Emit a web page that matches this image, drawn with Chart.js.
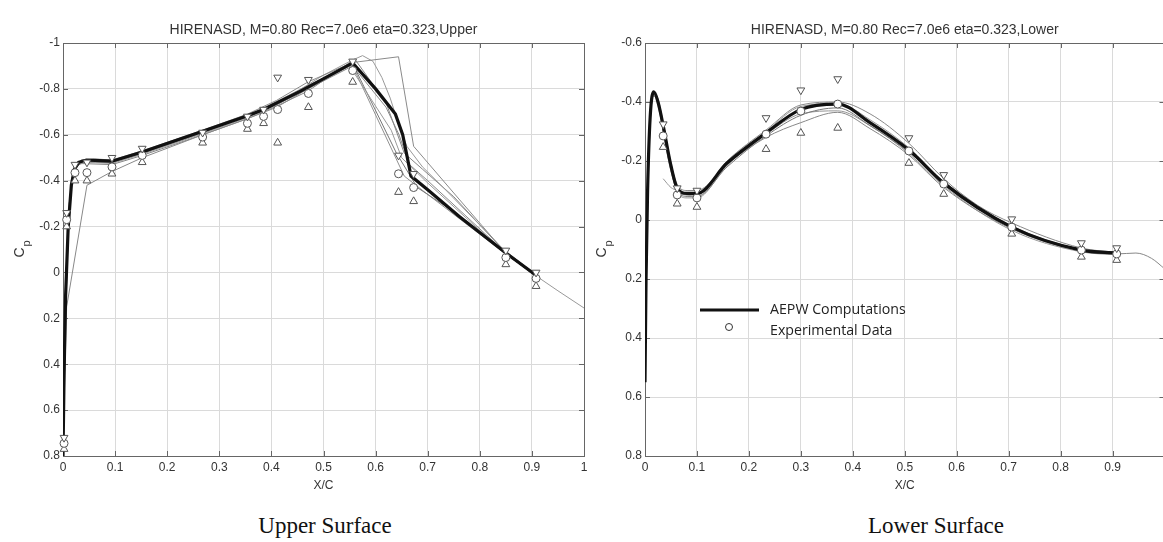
<!DOCTYPE html>
<html lang="en">
<head>
<meta charset="UTF-8">
<title>HIRENASD Cp</title>
<script src="https://cdn.jsdelivr.net/npm/chart.js"></script>
<style>
  html, body { margin: 0; padding: 0; background: #fff; overflow: hidden; }
  body { width: 1163px; height: 542px; position: relative; }
  canvas { position: absolute; top: 0; }
  #cvUpper { left: 0; }
  #cvLower { left: 590px; }
  .caption {
    position: absolute; top: 513px;
    font-family: "Liberation Serif", "Times New Roman", serif;
    font-size: 23px; color: #111;
    transform: translateX(-50%); white-space: nowrap;
  }
</style>
</head>
<body>

<canvas id="cvUpper" width="600" height="500"></canvas>
<canvas id="cvLower" width="580" height="500"></canvas>
<div class="caption" style="left:325px">Upper Surface</div>
<div class="caption" style="left:936px">Lower Surface</div>

<script>
// ---- tick labels ----
const upperXTicks = [0, 0.1, 0.2, 0.3, 0.4, 0.5, 0.6, 0.7, 0.8, 0.9, 1];
const upperYTicks = [-1, -0.8, -0.6, -0.4, -0.2, 0, 0.2, 0.4, 0.6, 0.8];
const lowerXTicks = [0, 0.1, 0.2, 0.3, 0.4, 0.5, 0.6, 0.7, 0.8, 0.9];
const lowerYTicks = [-0.6, -0.4, -0.2, 0, 0.2, 0.4, 0.6, 0.8];

// ---- upper surface, experimental data (x/c, Cp) ----
const upperExpX    = [0.002, 0.007, 0.023, 0.046, 0.094, 0.152, 0.268, 0.354, 0.385, 0.412, 0.471, 0.556, 0.644, 0.673, 0.85, 0.908];
const upperExpMin  = [0.72, -0.26, -0.47, -0.48, -0.50, -0.54, -0.61, -0.68, -0.71, -0.85, -0.84, -0.92, -0.51, -0.43, -0.096, 0.0];
const upperExpMean = [0.745, -0.23, -0.435, -0.435, -0.46, -0.51, -0.59, -0.65, -0.68, -0.71, -0.78, -0.88, -0.43, -0.37, -0.065, 0.026];
const upperExpMax  = [0.77, -0.20, -0.40, -0.40, -0.43, -0.48, -0.565, -0.625, -0.65, -0.565, -0.72, -0.83, -0.35, -0.31, -0.035, 0.06];

// ---- upper surface, computations [x/c, Cp] ----
const upperAEPW = [[0,0.8],[0.002,0.45],[0.005,0.1],[0.01,-0.2],[0.016,-0.38],[0.022,-0.45],[0.03,-0.48],[0.045,-0.49],[0.07,-0.487],[0.094,-0.485],[0.152,-0.525],[0.268,-0.615],[0.354,-0.683],[0.385,-0.71],[0.456,-0.79],[0.556,-0.913],[0.6,-0.8],[0.638,-0.69],[0.652,-0.6],[0.668,-0.42],[0.7,-0.36],[0.76,-0.245],[0.85,-0.085],[0.908,0.012]];
const upperRun1 = [[0,0.78],[0.003,0.35],[0.008,-0.05],[0.014,-0.33],[0.022,-0.46],[0.035,-0.49],[0.06,-0.495],[0.094,-0.49],[0.152,-0.53],[0.268,-0.62],[0.354,-0.69],[0.41,-0.75],[0.47,-0.83],[0.556,-0.915],[0.644,-0.94],[0.673,-0.55],[0.76,-0.32],[0.84,-0.11],[0.908,0.01]];
const upperRun2 = [[0,0.8],[0.004,0.25],[0.012,-0.3],[0.02,-0.44],[0.035,-0.49],[0.094,-0.48],[0.152,-0.52],[0.268,-0.61],[0.354,-0.68],[0.41,-0.735],[0.5,-0.86],[0.555,-0.925],[0.575,-0.945],[0.595,-0.92],[0.612,-0.85],[0.628,-0.76],[0.645,-0.64],[0.66,-0.55],[0.69,-0.46],[0.73,-0.37],[0.85,-0.09],[0.908,0.015],[0.95,0.08],[1,0.155]];
const upperRun3 = [[0,0.75],[0.007,0.15],[0.046,-0.38],[0.094,-0.44],[0.152,-0.5],[0.268,-0.6],[0.354,-0.67],[0.41,-0.72],[0.47,-0.8],[0.556,-0.9],[0.62,-0.72],[0.645,-0.6],[0.665,-0.47],[0.7,-0.4],[0.85,-0.085],[0.908,0.02]];
const upperRun4 = [[0,0.8],[0.003,0.3],[0.009,-0.15],[0.016,-0.4],[0.025,-0.47],[0.045,-0.48],[0.094,-0.475],[0.152,-0.515],[0.268,-0.605],[0.354,-0.675],[0.41,-0.73],[0.47,-0.8],[0.55,-0.9],[0.63,-0.62],[0.65,-0.5],[0.7,-0.39],[0.85,-0.08],[0.908,0.015]];
const upperRun5 = [[0,0.8],[0.002,0.4],[0.006,0.0],[0.012,-0.3],[0.02,-0.45],[0.04,-0.485],[0.094,-0.48],[0.152,-0.52],[0.268,-0.61],[0.354,-0.68],[0.41,-0.74],[0.47,-0.81],[0.556,-0.91],[0.64,-0.52],[0.68,-0.37],[0.76,-0.25],[0.85,-0.08],[0.908,0.015]];
const upperRun6 = [[0,0.8],[0.003,0.4],[0.008,-0.1],[0.015,-0.37],[0.025,-0.47],[0.05,-0.48],[0.094,-0.48],[0.152,-0.52],[0.268,-0.61],[0.354,-0.68],[0.41,-0.745],[0.47,-0.815],[0.555,-0.905],[0.655,-0.42],[0.7,-0.34],[0.85,-0.08],[0.908,0.015]];
const upperRun7 = [[0,0.8],[0.003,0.35],[0.01,-0.2],[0.018,-0.42],[0.03,-0.475],[0.094,-0.47],[0.152,-0.51],[0.268,-0.6],[0.354,-0.67],[0.41,-0.725],[0.47,-0.79],[0.56,-0.93],[0.62,-0.74],[0.655,-0.52],[0.69,-0.45],[0.75,-0.33],[0.85,-0.085],[0.908,0.01]];

// ---- lower surface, experimental data ----
const lowerExpX    = [0.035, 0.062, 0.1, 0.233, 0.30, 0.371, 0.508, 0.575, 0.706, 0.84, 0.908];
const lowerExpMin  = [-0.325, -0.108, -0.10, -0.346, -0.44, -0.478, -0.278, -0.153, -0.003, 0.078, 0.095];
const lowerExpMean = [-0.285, -0.085, -0.075, -0.291, -0.369, -0.393, -0.234, -0.122, 0.024, 0.102, 0.115];
const lowerExpMax  = [-0.247, -0.055, -0.044, -0.24, -0.295, -0.312, -0.193, -0.088, 0.047, 0.125, 0.136];

// ---- lower surface, computations ----
const lowerAEPW = [[0,0.55],[0.002,0.2],[0.005,-0.1],[0.01,-0.35],[0.017,-0.434],[0.025,-0.4],[0.035,-0.32],[0.048,-0.2],[0.062,-0.108],[0.081,-0.09],[0.1,-0.09],[0.158,-0.193],[0.233,-0.295],[0.3,-0.375],[0.371,-0.393],[0.433,-0.33],[0.508,-0.237],[0.575,-0.125],[0.706,0.024],[0.84,0.102],[0.908,0.112]];
const lowerRun1 = [[0,0.5],[0.003,0.1],[0.007,-0.2],[0.012,-0.38],[0.018,-0.43],[0.026,-0.39],[0.035,-0.31],[0.05,-0.19],[0.062,-0.12],[0.081,-0.1],[0.1,-0.1],[0.158,-0.19],[0.233,-0.28],[0.3,-0.33],[0.371,-0.365],[0.433,-0.31],[0.508,-0.22],[0.575,-0.11],[0.706,0.03],[0.84,0.105],[0.908,0.115],[0.945,0.112],[0.975,0.13],[1,0.165]];
const lowerRun2 = [[0.035,-0.14],[0.05,-0.11],[0.062,-0.1],[0.081,-0.085],[0.1,-0.08],[0.158,-0.19],[0.233,-0.3],[0.3,-0.385],[0.371,-0.395],[0.433,-0.34],[0.508,-0.245],[0.575,-0.13],[0.706,0.02],[0.84,0.1],[0.908,0.11]];
const lowerRun3 = [[0,0.45],[0.004,0.0],[0.009,-0.3],[0.016,-0.43],[0.025,-0.41],[0.035,-0.33],[0.048,-0.21],[0.062,-0.11],[0.081,-0.085],[0.1,-0.085],[0.158,-0.2],[0.233,-0.305],[0.3,-0.39],[0.371,-0.4],[0.433,-0.36],[0.508,-0.26],[0.575,-0.14],[0.64,-0.05],[0.706,0.01],[0.84,0.095],[0.908,0.11]];
const lowerRun4 = [[0,0.5],[0.003,0.15],[0.008,-0.25],[0.015,-0.42],[0.022,-0.42],[0.035,-0.3],[0.048,-0.18],[0.062,-0.1],[0.081,-0.08],[0.1,-0.08],[0.158,-0.18],[0.233,-0.285],[0.3,-0.355],[0.371,-0.38],[0.433,-0.32],[0.508,-0.23],[0.575,-0.13],[0.706,0.022],[0.84,0.1],[0.908,0.112]];
const lowerRun5 = [[0,0.55],[0.004,0.05],[0.01,-0.33],[0.017,-0.43],[0.026,-0.38],[0.035,-0.3],[0.05,-0.17],[0.062,-0.095],[0.081,-0.075],[0.1,-0.075],[0.158,-0.185],[0.233,-0.29],[0.3,-0.36],[0.371,-0.37],[0.433,-0.32],[0.508,-0.225],[0.575,-0.115],[0.706,0.035],[0.84,0.108],[0.908,0.118]];

const AXIS_FONT = { family: '"Liberation Sans", Arial, sans-serif', size: 12 };
const fmt = v => String(Math.round(v * 10) / 10);
const pts = arr => arr.map(p => ({ x: p[0], y: p[1] }));
const zip = (xs, ys) => xs.map((x, i) => ({ x: x, y: ys[i] }));

function runSet(arr, color, smooth) {
  return { data: pts(arr), showLine: true, borderColor: color, borderWidth: 1,
           pointRadius: 0, order: 3, cubicInterpolationMode: smooth ? 'monotone' : 'default', tension: 0 };
}
function boldSet(arr, smooth) {
  return { data: pts(arr), showLine: true, borderColor: '#111', borderWidth: 3.2,
           pointRadius: 0, order: 2, cubicInterpolationMode: smooth ? 'monotone' : 'default', tension: 0 };
}
function markSet(xs, ys, style, rot, r) {
  return { data: zip(xs, ys), showLine: false, pointStyle: style, rotation: rot,
           pointRadius: r, pointBackgroundColor: '#fff', pointBorderColor: '#555',
           pointBorderWidth: 1, order: 1, clip: 8 };
}

// box, inward ticks and the C_p label
const framePlugin = {
  id: 'frame',
  beforeDatasetsDraw(chart) {
    const { ctx, chartArea: a, scales } = chart;
    ctx.save();
    ctx.strokeStyle = '#666';
    ctx.lineWidth = 1;
    scales.x.ticks.forEach(t => {
      const px = Math.round(scales.x.getPixelForValue(t.value)) + 0.5;
      ctx.beginPath();
      ctx.moveTo(px, a.bottom); ctx.lineTo(px, a.bottom - 5);
      ctx.moveTo(px, a.top); ctx.lineTo(px, a.top + 5);
      ctx.stroke();
    });
    scales.y.ticks.forEach(t => {
      const py = Math.round(scales.y.getPixelForValue(t.value)) + 0.5;
      ctx.beginPath();
      ctx.moveTo(a.left, py); ctx.lineTo(a.left + 5, py);
      ctx.moveTo(a.right, py); ctx.lineTo(a.right - 5, py);
      ctx.stroke();
    });
    ctx.strokeRect(Math.round(a.left) + 0.5, Math.round(a.top) + 0.5,
                   Math.round(a.right - a.left), Math.round(a.bottom - a.top));
    ctx.restore();
  },
  afterDraw(chart) {
    const { ctx, chartArea: a } = chart;
    ctx.save();
    ctx.translate(a.left - 43, (a.top + a.bottom) / 2 + 3);
    ctx.rotate(-Math.PI / 2);
    ctx.fillStyle = '#333';
    ctx.textAlign = 'center';
    ctx.textBaseline = 'middle';
    ctx.font = '14px "Liberation Sans", Arial, sans-serif';
    ctx.fillText('C', 0, 0);
    ctx.font = '11px "Liberation Sans", Arial, sans-serif';
    ctx.fillText('p', 9, 7);
    ctx.restore();
  }
};

const legendPlugin = {
  id: 'cpLegend',
  afterDraw(chart) {
    const { ctx, chartArea: a } = chart;
    const x0 = a.left + 55, y0 = a.top + 267;
    ctx.save();
    ctx.strokeStyle = '#111';
    ctx.lineWidth = 3;
    ctx.beginPath();
    ctx.moveTo(x0, y0); ctx.lineTo(x0 + 59, y0);
    ctx.stroke();
    ctx.lineWidth = 1;
    ctx.strokeStyle = '#333';
    ctx.beginPath();
    ctx.arc(x0 + 29, y0 + 17, 3.5, 0, Math.PI * 2);
    ctx.stroke();
    ctx.fillStyle = '#222';
    ctx.font = '14.2px "Open Sans", sans-serif';
    ctx.textBaseline = 'middle';
    ctx.fillText('AEPW Computations', x0 + 70, y0);
    ctx.fillText('Experimental Data', x0 + 70, y0 + 21);
    ctx.restore();
  }
};

function makeChart(id, title, sets, xTicks, yTicks, xMax, yMin, yMax, yWidth, padRight, extra) {
  const ctx = document.getElementById(id).getContext('2d');
  return new Chart(ctx, {
    type: 'scatter',
    data: { datasets: sets },
    options: {
      responsive: false,
      animation: false,
      layout: { padding: { left: 0, right: padRight, top: 0, bottom: 0 } },
      plugins: {
        legend: { display: false },
        tooltip: { enabled: false },
        title: {
          display: true, text: title, fullSize: false, color: '#333',
          font: { family: AXIS_FONT.family, size: 14, weight: 'normal' },
          padding: { top: 21.6, bottom: 4.6 }
        }
      },
      scales: {
        x: {
          type: 'linear', min: 0, max: xMax,
          afterBuildTicks: s => { s.ticks = xTicks.map(v => ({ value: v })); },
          afterFit: s => { s.height = 44; },
          ticks: { color: '#333', font: AXIS_FONT, padding: 4, maxRotation: 0, callback: fmt },
          grid: { color: '#dadada', drawTicks: false },
          border: { display: false },
          title: { display: true, text: 'X/C', color: '#333', font: AXIS_FONT, padding: { top: 0, bottom: 6.8 } }
        },
        y: {
          type: 'linear', min: yMin, max: yMax, reverse: true,
          afterBuildTicks: s => { s.ticks = yTicks.map(v => ({ value: v })); },
          afterFit: s => { s.width = yWidth; },
          ticks: { color: '#333', font: AXIS_FONT, padding: 3, callback: fmt },
          grid: { color: '#dadada', drawTicks: false },
          border: { display: false }
        }
      }
    },
    plugins: [framePlugin].concat(extra)
  });
}

makeChart('cvUpper', 'HIRENASD, M=0.80 Rec=7.0e6 eta=0.323,Upper', [
  markSet(upperExpX, upperExpMin, 'triangle', 180, 4.5),
  markSet(upperExpX, upperExpMean, 'circle', 0, 4),
  markSet(upperExpX, upperExpMax, 'triangle', 0, 4.5),
  boldSet(upperAEPW, false),
  runSet(upperRun1, '#8a8a8a', false),
  runSet(upperRun2, '#999', false),
  runSet(upperRun3, '#888', false),
  runSet(upperRun4, '#9a9a9a', false),
  runSet(upperRun5, '#777', false),
  runSet(upperRun6, '#909090', false),
  runSet(upperRun7, '#858585', false)
], upperXTicks, upperYTicks, 1, -1, 0.8, 63, 16, []);

makeChart('cvLower', 'HIRENASD, M=0.80 Rec=7.0e6 eta=0.323,Lower', [
  markSet(lowerExpX, lowerExpMin, 'triangle', 180, 4.5),
  markSet(lowerExpX, lowerExpMean, 'circle', 0, 4),
  markSet(lowerExpX, lowerExpMax, 'triangle', 0, 4.5),
  boldSet(lowerAEPW, true),
  runSet(lowerRun1, '#888', true),
  runSet(lowerRun2, '#999', true),
  runSet(lowerRun3, '#8a8a8a', true),
  runSet(lowerRun4, '#777', true),
  runSet(lowerRun5, '#959595', true)
], lowerXTicks, lowerYTicks, 1, -0.6, 0.8, 55, 5, [legendPlugin]);
</script>
</body>
</html>
